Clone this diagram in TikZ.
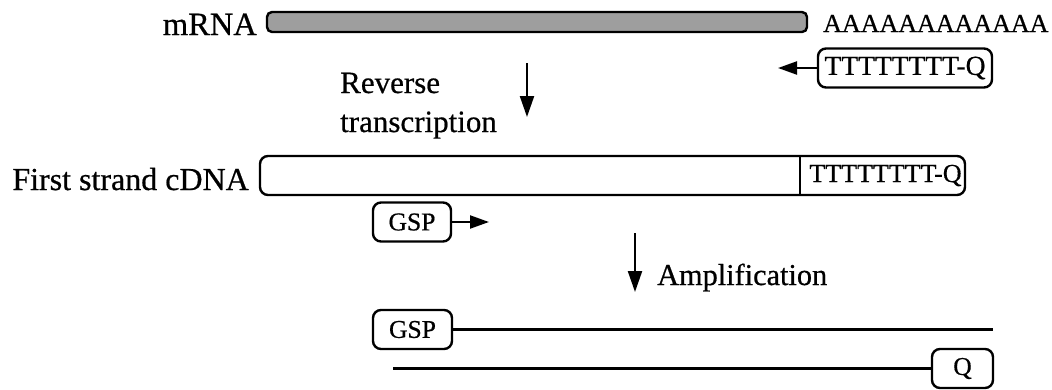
\documentclass[tikz,border=0pt]{standalone}
\usepackage{fontspec}
\setmainfont{Liberation Serif}[FakeBold=0.6]
\newfontfamily\refserif{Liberation Serif}[FakeBold=0.6]
\usetikzlibrary{arrows.meta}
\begin{document}
\begin{tikzpicture}[x=1pt,y=-1pt,
  strand/.style={draw, line width=2.4pt, rounded corners=7pt, inner sep=0pt},
  primer/.style={draw, line width=2.4pt, rounded corners=8pt, inner sep=0pt, minimum height=39pt},
  arr/.style={line width=2.2pt, -{Triangle[length=21pt,width=14pt]}},
  harr/.style={line width=2.2pt, -{Triangle[length=19pt,width=13pt]}},
  ln/.style={line width=2.4pt},
  lab/.style={inner sep=0pt},
]
\useasboundingbox (0,0) rectangle (1052,389);
% mRNA
\node[strand, rounded corners=5pt, fill=black!38, minimum width=540pt, minimum height=20pt] (mrna) at (537,22) {};
\node[lab, anchor=base east, font=\refserif\fontsize{32.5}{38}\selectfont] (mrnalab) at (257,35) {mRNA};
\node[lab, anchor=base west, font=\refserif\fontsize{26}{30}\selectfont] (polya) at (823,32) {AAAAAAAAAAAA};
% oligo dT primer
\node[primer, minimum width=174pt, font=\refserif\fontsize{27.5}{32}\selectfont] (dt) at (905,68) {TTTTTTTT-Q};
\coordinate (dtend) at (778,68);
\draw[harr] (dt.west) -- (dtend);
% reverse transcription
\coordinate (rt1) at (527,63);
\coordinate (rt2) at (527,117);
\draw[arr] (rt1) -- (rt2);
\node[lab, anchor=base west, align=left, font=\refserif\fontsize{31}{39}\selectfont] (rtlab) at (340,132) {Reverse\\transcription};
% first strand cDNA
\node[strand, rounded corners=8pt, minimum width=705pt, minimum height=39pt] (cdna) at (612.5,175.5) {};
\node[lab, minimum width=165pt, minimum height=39pt, font=\refserif\fontsize{26}{30}\selectfont] (tq) at (882.5,175.5) {\hspace{6pt}TTTTTTTT-Q};
\draw[ln] (tq.north west) -- (tq.south west);
\node[lab, anchor=base east, font=\refserif\fontsize{32}{38}\selectfont] (cdnalab) at (249,190) {First strand cDNA};
% GSP primer
\node[primer, minimum width=78pt, font=\refserif\fontsize{25.6}{30}\selectfont] (gsp) at (412,222) {GSP};
\coordinate (gspend) at (489,222);
\draw[harr] (gsp.east) -- (gspend);
% amplification
\coordinate (am1) at (635,233);
\coordinate (am2) at (635,292);
\draw[arr] (am1) -- (am2);
\node[lab, anchor=base west, font=\refserif\fontsize{30.3}{36}\selectfont] (amlab) at (657,285) {Amplification};
% products
\node[primer, minimum width=79pt, font=\refserif\fontsize{25.6}{30}\selectfont] (gsp2) at (412.5,329.5) {GSP};
\coordinate (top2end) at (993,329.5);
\draw[ln] (gsp2.east) -- (top2end);
\node[primer, minimum width=61pt, font=\refserif\fontsize{25.6}{30}\selectfont] (q) at (962.5,368.5) {Q};
\coordinate (bot2end) at (393,368.5);
\draw[ln] (q.west) -- (bot2end);
\end{tikzpicture}
\end{document}
